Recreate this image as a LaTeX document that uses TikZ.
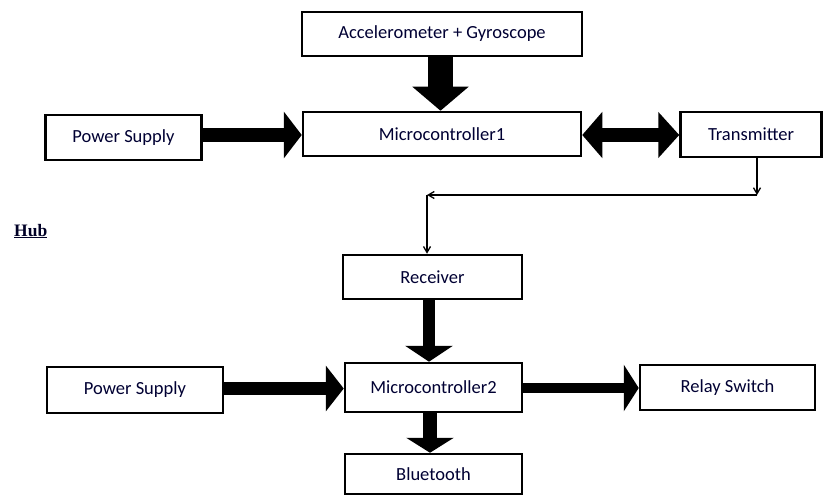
\documentclass[tikz,border=0pt]{standalone}
\usepackage{fontspec}
\setmainfont{Carlito}
\newfontfamily\hubfont{Liberation Serif}
\usetikzlibrary{arrows.meta}
\tikzset{
  blk/.style={draw=black, line width=2.5pt, fill=white, inner sep=0pt, font=\fontsize{18.5}{20}\selectfont, text=black!80!blue},
  thinln/.style={line width=1.3pt, -{Straight Barb[length=6pt,width=7pt]}}
}
\begin{document}
\begin{tikzpicture}[x=1pt,y=-1pt]
\useasboundingbox (0,0) rectangle (823,495);
\node[blk, minimum width=280, minimum height=44] (acc) at (442,34) {Accelerometer + Gyroscope};
\node[blk, minimum width=278, minimum height=44] (mc1) at (442,134) {Microcontroller1};
\node[blk, minimum width=156, minimum height=45] (ps1) at (123.5,137.5) {Power Supply};
\node[blk, minimum width=141, minimum height=45] (tx) at (751,134.5) {Transmitter};
\node[blk, minimum width=179, minimum height=44] (rx) at (432.5,277) {Receiver};
\node[blk, minimum width=177, minimum height=49] (mc2) at (433.5,387.5) {Microcontroller2};
\node[blk, minimum width=176, minimum height=46] (ps2) at (135,390) {Power Supply};
\node[blk, minimum width=175, minimum height=45] (relay) at (727.5,387.5) {Relay Switch};
\node[blk, minimum width=177, minimum height=40] (bt) at (433.5,474) {Bluetooth};
\node[font=\hubfont\bfseries\fontsize{17.5}{20}\selectfont, anchor=base west, inner sep=0pt, text=black!85!blue] (hub) at (14,236) {\underline{Hub}};

% thick arrows
\draw[line width=25pt, -{Triangle[length=24pt,width=55pt]}] (acc.south -| 440.5,0) -- (mc1.north -| 440.5,0);
\draw[line width=14pt, -{Triangle[length=18pt,width=46pt]}] (ps1.east |- 0,135) -- (mc1.west |- 0,135);
\draw[line width=14pt, {Triangle[length=20pt,width=45pt]}-{Triangle[length=21pt,width=45pt]}] (mc1.east |- 0,135) -- (tx.west |- 0,135);
\draw[line width=12pt, -{Triangle[length=16pt,width=47pt]}] (rx.south -| 429,0) -- (mc2.north -| 429,0);
\draw[line width=13pt, -{Triangle[length=18pt,width=45pt]}] (ps2.east |- 0,388.5) -- (mc2.west |- 0,388.5);
\draw[line width=14pt, -{Triangle[length=15pt,width=47pt]}] (mc2.south -| 430,0) -- (bt.north -| 430,0);
\draw[line width=10pt, -{Triangle[length=15pt,width=46pt]}] (mc2.east |- 0,388) -- (relay.west |- 0,388);

% thin link
\coordinate (c1) at (757,195);
\coordinate (c2) at (427,195);
\draw[thinln] (tx.south -| c1) -- (c1);
\draw[thinln] (c1) -- (c2);
\draw[thinln] (c2) -- (rx.north -| c2);
\end{tikzpicture}
\end{document}
